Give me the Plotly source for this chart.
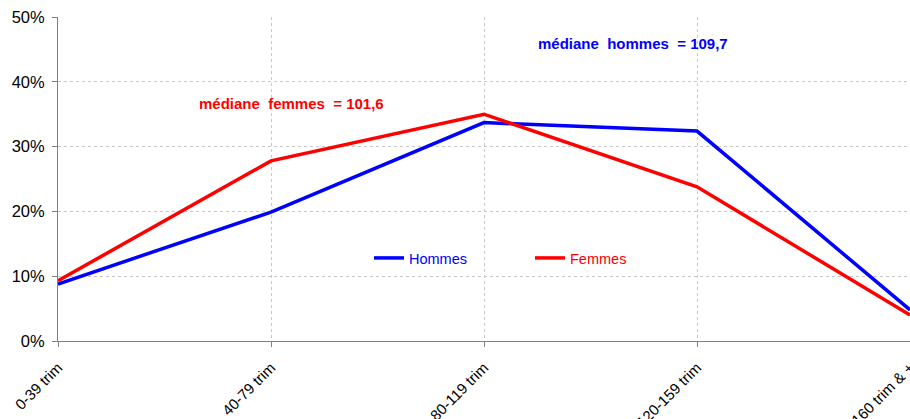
import plotly.graph_objects as go

categories = ["0-39 trim", "40-79 trim", "80-119 trim", "120-159 trim", "160 trim & +"]
hommes = [0.088, 0.199, 0.337, 0.324, 0.048]
femmes = [0.093, 0.278, 0.350, 0.238, 0.040]
y_ticks = [0, 0.1, 0.2, 0.3, 0.4, 0.5]
y_labels = ["0%", "10%", "20%", "30%", "40%", "50%"]

fig = go.Figure()
fig.add_trace(go.Scatter(x=categories, y=hommes, mode="lines",
                         name='<span style="color:#0000FF">Hommes</span>',
                         line=dict(color="#0000FF", width=3.5), cliponaxis=False))
fig.add_trace(go.Scatter(x=categories, y=femmes, mode="lines",
                         name='<span style="color:#FF0000">Femmes</span>',
                         line=dict(color="#FF0000", width=3.5), cliponaxis=False))

fig.add_annotation(text="<b>médiane  hommes  = 109,7</b>", xref="paper", yref="paper",
                   x=(536 - 58) / 852, y=(341 - 43) / 324, xanchor="left", yanchor="middle",
                   showarrow=False, font=dict(color="#0000FF", size=15, family="Liberation Sans"))
fig.add_annotation(text="<b>médiane  femmes  = 101,6</b>", xref="paper", yref="paper",
                   x=(197 - 58) / 852, y=(341 - 104) / 324, xanchor="left", yanchor="middle",
                   showarrow=False, font=dict(color="#FF0000", size=15, family="Liberation Sans"))

fig.update_layout(
    width=910, height=419,
    margin=dict(l=58, r=0, t=17, b=78, autoexpand=False),
    paper_bgcolor="white", plot_bgcolor="white",
    font=dict(family="Liberation Sans", size=14, color="black"),
    showlegend=True,
    legend=dict(orientation="h", x=(369 - 58) / 852, y=(341 - 258) / 324,
                xanchor="left", yanchor="middle", bgcolor="rgba(0,0,0,0)",
                font=dict(size=14.5), entrywidth=116, entrywidthmode="pixels"),
    xaxis=dict(type="category", range=[0, 4], showgrid=True, gridcolor="#C8C8C8",
               griddash="dot", gridwidth=1, showline=True, linecolor="#808080", linewidth=1,
               ticks="outside", ticklen=5, tickcolor="#808080", tickangle=-45,
               tickfont=dict(size=15), zeroline=False, automargin=False,
               ticklabeloverflow="allow", ticklabelstandoff=6),
    yaxis=dict(range=[0, 0.5], tickvals=y_ticks, ticktext=y_labels, showgrid=True,
               gridcolor="#C8C8C8", griddash="dot", gridwidth=1, showline=True,
               linecolor="#808080", linewidth=1, ticks="outside", ticklen=5,
               tickcolor="#808080", tickfont=dict(size=16.5), zeroline=False,
               ticklabelstandoff=4, automargin=False, ticklabeloverflow="allow"),
)

fig.write_html("out.html", config={"displayModeBar": False},
               post_script="document.body.style.margin='0';document.body.style.overflow='hidden';")
